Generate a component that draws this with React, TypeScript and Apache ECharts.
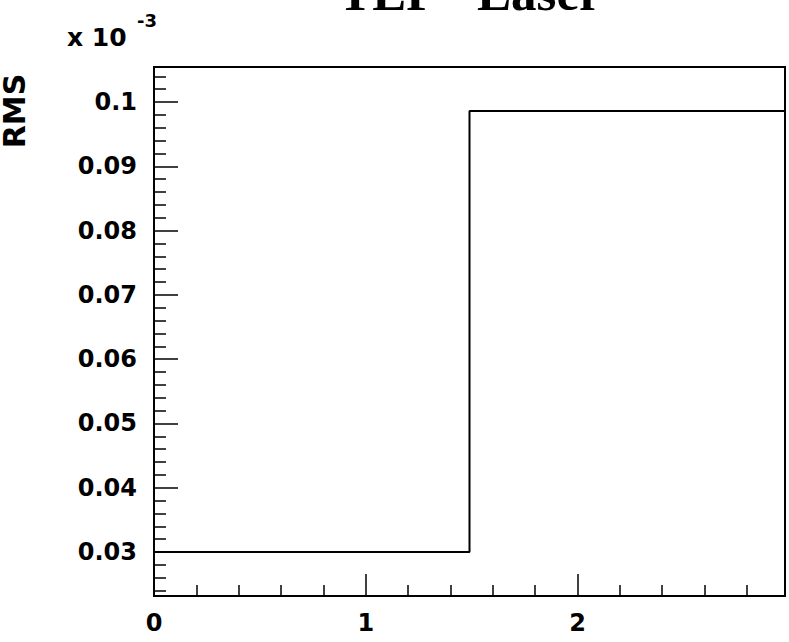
import React, { useEffect, useRef } from "react";
import * as echarts from "echarts";

// Histogram bin edges (x) and bin contents (RMS, in units of 1e-3)
const binEdges = [0, 1.49, 2.98];
const rmsValues = [0.03, 0.0986];
const xRange = [0, 2.98];
const yRange = [0.02316, 0.10544];
const titleText = "TEP - Laser";
const yTitle = "RMS";
const expBase = "x 10";
const expPower = "-3";

const labelFont = "'DejaVu Sans', sans-serif";

export default function App() {
  const ref = useRef<HTMLDivElement>(null);
  useEffect(() => {
    if (!ref.current) return;
    const chart = echarts.init(ref.current, undefined, { renderer: "svg" });
    const points: number[][] = [];
    for (let i = 0; i < rmsValues.length; i++) points.push([binEdges[i], rmsValues[i]]);
    points.push([binEdges[binEdges.length - 1], rmsValues[rmsValues.length - 1]]);

    const isMultiple = (v: number, step: number) =>
      Math.abs(v / step - Math.round(v / step)) < 1e-6;

    chart.setOption({
      animation: false,
      backgroundColor: "#fff",
      grid: {
        left: 154,
        top: 67,
        right: 4,
        bottom: 46,
        show: true,
        borderColor: "#000",
        borderWidth: 2,
        backgroundColor: "transparent",
      },
      xAxis: {
        type: "value",
        min: xRange[0],
        max: xRange[1],
        splitNumber: 3,
        axisLine: { show: true, onZero: false, lineStyle: { color: "#000", width: 2 } },
        axisTick: { show: true, inside: true, length: 22, lineStyle: { color: "#000", width: 1.5 } },
        minorTick: { show: true, splitNumber: 5, length: 11, lineStyle: { color: "#000", width: 1.5 } },
        splitLine: { show: false },
        axisLabel: {
          color: "#000",
          fontFamily: labelFont,
          fontWeight: "bold",
          fontSize: 24,
          margin: 15,
          formatter: (v: number) => (isMultiple(v, 1) ? String(Math.round(v)) : ""),
        },
      },
      yAxis: {
        type: "value",
        min: yRange[0],
        max: yRange[1],
        splitNumber: 8,
        axisLine: { show: true, onZero: false, lineStyle: { color: "#000", width: 2 } },
        axisTick: { show: true, inside: true, length: 24, lineStyle: { color: "#000", width: 1.5 } },
        minorTick: { show: true, splitNumber: 5, length: 12, lineStyle: { color: "#000", width: 1.5 } },
        splitLine: { show: false },
        axisLabel: {
          color: "#000",
          fontFamily: labelFont,
          fontWeight: "bold",
          fontSize: 24,
          margin: 17,
          formatter: (v: number) =>
            isMultiple(v, 0.01) ? String(Math.round(v * 100) / 100) : "",
        },
      },
      series: [
        {
          type: "line",
          step: "end",
          data: points,
          symbol: "none",
          lineStyle: { color: "#000", width: 2 },
        },
      ],
      graphic: [
        {
          type: "text",
          x: 470,
          y: -7,
          style: {
            text: titleText,
            fill: "#000",
            font: "bold 51px 'Liberation Serif', 'Times New Roman', serif",
            align: "center",
            verticalAlign: "middle",
          },
        },
        {
          type: "text",
          x: 67,
          y: 37,
          style: {
            text: expBase,
            fill: "#000",
            font: "bold 25px 'DejaVu Sans', sans-serif",
            align: "left",
            verticalAlign: "middle",
          },
        },
        {
          type: "text",
          x: 137,
          y: 20,
          style: {
            text: expPower,
            fill: "#000",
            font: "bold 18px 'DejaVu Sans', sans-serif",
            align: "left",
            verticalAlign: "middle",
          },
        },
        {
          type: "text",
          x: 14,
          y: 111,
          rotation: Math.PI / 2,
          style: {
            text: yTitle,
            fill: "#000",
            font: "bold 30px 'DejaVu Sans', sans-serif",
            lineHeight: 26,
            align: "center",
            verticalAlign: "middle",
          },
        },
      ],
    });
    return () => chart.dispose();
  }, []);
  return (
    <div
      ref={ref}
      style={{ position: "fixed", left: 0, top: 0, width: 789, height: 642, background: "#fff" }}
    />
  );
}
